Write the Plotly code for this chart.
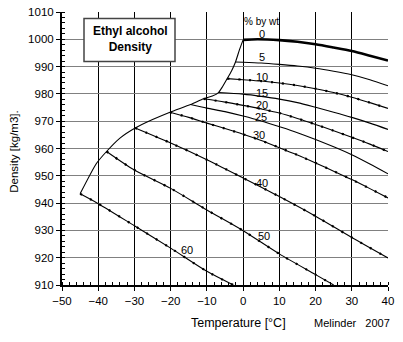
import plotly.graph_objects as go

# Density of ethanol-water mixtures, kg/m3, from the freezing point up to 40 °C
temp_0 = [0, 4, 10, 15, 20, 25, 30, 35, 40]
dens_0 = [999.8, 1000.0, 999.7, 999.1, 998.2, 997.0, 995.7, 994.0, 992.2]

temp_5 = [-2.1, 0, 5, 10, 15, 20, 25, 30, 35, 40]
dens_5 = [991.7, 991.6, 991.3, 990.8, 990.2, 989.4, 988.3, 987.0, 985.2, 983.0]

temp_10 = [-4.4, 0, 5, 10, 15, 20, 25, 30, 35, 40]
dens_10 = [985.6, 985.2, 984.7, 984.0, 983.1, 981.9, 980.5, 978.8, 976.8, 974.7]

temp_15 = [-6.8, 0, 5, 10, 15, 20, 25, 30, 35, 40]
dens_15 = [980.5, 979.9, 979.1, 978.1, 976.8, 975.1, 973.3, 971.4, 969.3, 967.0]

temp_20 = [-10.9, -5, 0, 5, 10, 15, 20, 25, 30, 35, 40]
dens_20 = [978.2, 977.0, 975.8, 974.5, 973.0, 971.0, 968.8, 966.5, 964.1, 961.6, 958.9]

temp_25 = [-14.5, -10, -5, 0, 5, 10, 15, 20, 25, 30, 35, 40]
dens_25 = [976.1, 974.8, 973.5, 971.9, 970.1, 968.0, 965.8, 963.3, 960.6, 957.7, 954.3, 950.7]

temp_30 = [-20.2, -15, -10, -5, 0, 5, 10, 15, 20, 25, 30, 35, 40]
dens_30 = [973.3, 971.4, 969.3, 967.3, 965.2, 962.9, 960.3, 957.6, 954.7, 951.7, 948.6, 945.3, 941.9]

temp_40 = [-29.8, -20, -10, 0, 10, 20, 30, 40]
dens_40 = [967.5, 962.0, 955.9, 949.2, 942.4, 935.2, 927.4, 919.9]

temp_50 = [-37.7, -30, -20, -10, 0, 10, 20, 25]
dens_50 = [958.9, 952.1, 945.4, 937.5, 929.9, 921.4, 913.8, 910.0]

temp_60 = [-45.0, -40, -30, -20, -10, -2.7]
dens_60 = [943.4, 939.8, 931.7, 923.5, 915.0, 910.0]

# Freezing curve of the mixtures
freeze_temp = [0, -1.0, -2.1, -3.2, -4.4, -5.8, -6.8, -8.5, -10.9, -14.5, -20.2,
               -25.0, -29.8, -34.0, -37.7, -40.5, -45.0]
freeze_dens = [999.8, 996.2, 991.7, 988.4, 985.6, 982.4, 980.5, 979.2, 978.2, 976.1, 973.3,
               970.6, 967.5, 963.8, 958.9, 954.5, 943.4]

series = [
    ("0", temp_0, dens_0),
    ("5", temp_5, dens_5),
    ("10", temp_10, dens_10),
    ("15", temp_15, dens_15),
    ("20", temp_20, dens_20),
    ("25", temp_25, dens_25),
    ("30", temp_30, dens_30),
    ("40", temp_40, dens_40),
    ("50", temp_50, dens_50),
    ("60", temp_60, dens_60),
]
# concentrations that also carry the dotted data trace
dotted = {"10", "20", "30", "40", "50", "60"}

# where each concentration label sits (temperature, density)
label_pos = {
    "0": (5.2, 1001.8), "5": (5.2, 993.4), "10": (5.2, 986.2), "15": (5.2, 980.4),
    "20": (5.2, 976.0), "25": (4.8, 971.6), "30": (4.4, 964.8), "40": (5.2, 947.5),
    "50": (5.8, 927.9), "60": (-15.6, 923.0),
}

FONT = "Liberation Sans, Arial, sans-serif"

fig = go.Figure()

fig.add_trace(go.Scatter(x=freeze_temp, y=freeze_dens, mode="lines",
                         line=dict(color="black", width=1.1, shape="spline", smoothing=0.6),
                         hoverinfo="skip"))

for name, t, d in series:
    width = 2.6 if name == "0" else 1.1
    fig.add_trace(go.Scatter(x=t, y=d, mode="lines",
                             line=dict(color="black", width=width, shape="spline", smoothing=0.8),
                             name=name + " %"))
    if name in dotted:
        fig.add_trace(go.Scatter(x=t, y=d, mode="lines",
                                 line=dict(color="black", width=2.2, shape="spline",
                                           smoothing=0.8, dash="2px,9px"),
                                 hoverinfo="skip"))


def paper_x(px):
    return (px - 62) / 326


def paper_y(py):
    return (285.5 - py) / 273.5


annotations = []
for name, (tx, dy) in label_pos.items():
    annotations.append(dict(x=tx, y=dy, xref="x", yref="y", text=name, showarrow=False,
                            xanchor="center", yanchor="middle",
                            font=dict(family=FONT, size=11, color="black")))

annotations += [
    dict(x=5.2, y=1006.5, xref="x", yref="y", text="% by wt", showarrow=False,
         xanchor="center", yanchor="middle",
         font=dict(family=FONT, size=10, color="black")),
    dict(x=paper_x(130), y=paper_y(39.5), xref="paper", yref="paper",
         text="<b>Ethyl alcohol<br>Density</b>", showarrow=False,
         xanchor="center", yanchor="middle",
         font=dict(family=FONT, size=12, color="black")),
    dict(x=paper_x(238.5), y=paper_y(324), xref="paper", yref="paper",
         text="Temperature [°C]", showarrow=False, xanchor="center", yanchor="middle",
         font=dict(family=FONT, size=12.5, color="black")),
    dict(x=paper_x(351.5), y=paper_y(324), xref="paper", yref="paper",
         text="Melinder&nbsp;&nbsp;&nbsp;2007", showarrow=False,
         xanchor="center", yanchor="middle",
         font=dict(family=FONT, size=11, color="black")),
    dict(x=paper_x(14), y=paper_y(152), xref="paper", yref="paper",
         text="Density [kg/m3].", textangle=-90, showarrow=False,
         xanchor="center", yanchor="middle",
         font=dict(family=FONT, size=11.5, color="black")),
]

fig.update_layout(
    width=403, height=342,
    margin=dict(l=62, r=15, t=12, b=56.5),
    paper_bgcolor="white", plot_bgcolor="white",
    showlegend=False,
    annotations=annotations,
    shapes=[dict(type="rect", xref="paper", yref="paper",
                 x0=paper_x(84), x1=paper_x(175), y0=paper_y(61.5), y1=paper_y(18.5),
                 line=dict(color="#444444", width=1.5), fillcolor="white", layer="above")],
    xaxis=dict(range=[-50, 40], tickmode="linear", tick0=-50, dtick=10, automargin=False,
               showgrid=True, gridcolor="black", gridwidth=1.3, zeroline=False,
               showline=True, linecolor="black", linewidth=2,
               ticks="outside", ticklen=4, tickcolor="black", tickwidth=1.3,
               minor=dict(dtick=2, ticks="inside", ticklen=3, tickcolor="black", showgrid=False),
               tickfont=dict(family=FONT, size=11.5, color="black")),
    yaxis=dict(range=[910, 1010], tickmode="linear", tick0=910, dtick=10, automargin=False,
               showgrid=True, gridcolor="#808080", gridwidth=1, zeroline=False,
               showline=True, linecolor="black", linewidth=2,
               ticks="outside", ticklen=4, tickcolor="black", tickwidth=1.3,
               minor=dict(dtick=2, ticks="inside", ticklen=3, tickcolor="black", showgrid=False),
               tickfont=dict(family=FONT, size=11.5, color="black")),
)

fig.write_html("out.html")
